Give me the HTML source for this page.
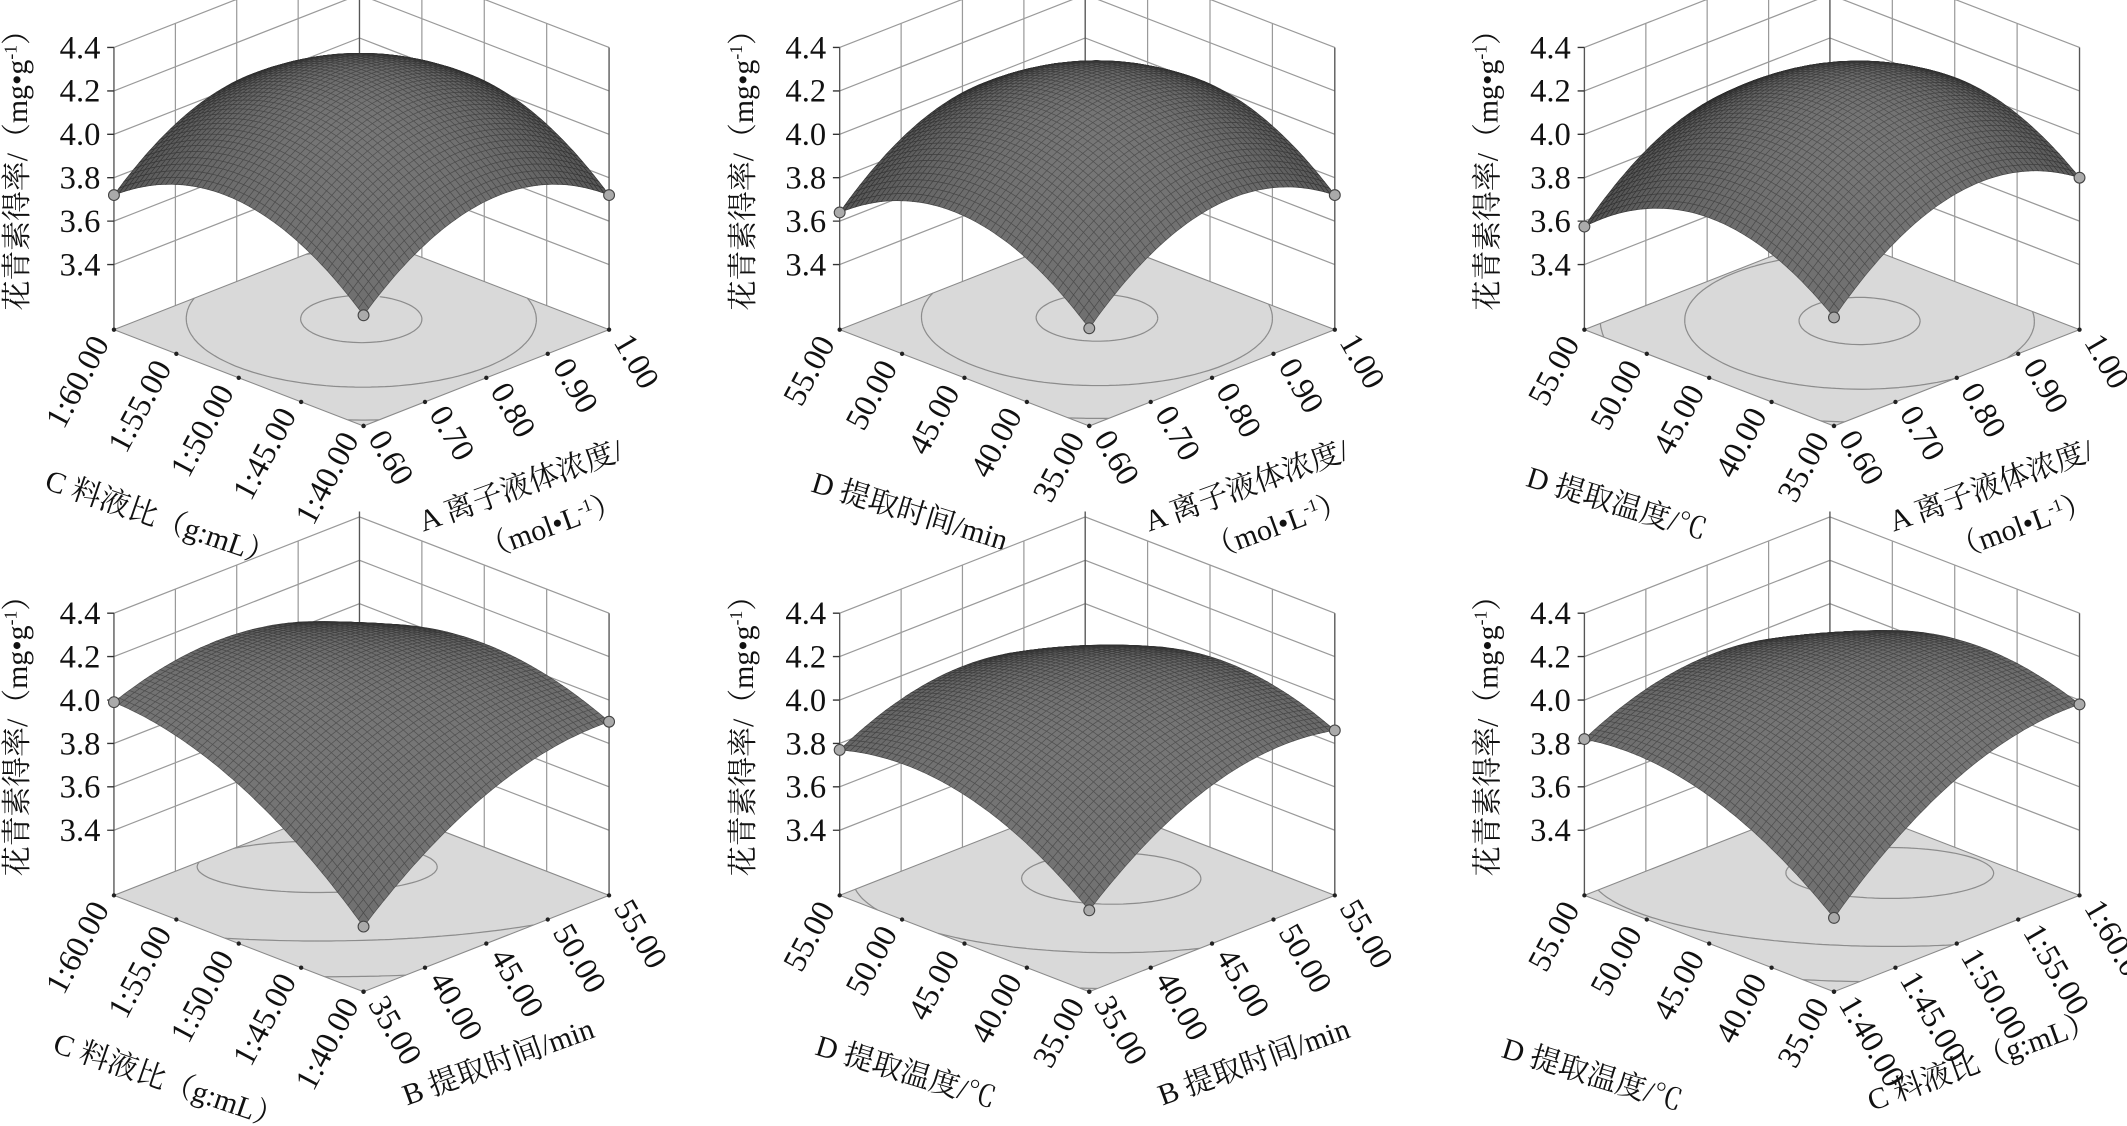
<!DOCTYPE html>
<html><head><meta charset="utf-8">
<style>
html,body{margin:0;padding:0;background:#fff;}
svg{display:block;}
text{font-family:"Liberation Serif","Noto Serif CJK SC","Noto Sans CJK SC",serif;fill:#111;}
.zt{font-size:24px;text-anchor:end;}
.tk{font-size:24px;}
.ti{font-size:22px;}
</style></head>
<body>
<svg width="2127" height="1126" viewBox="0 0 1568 830" preserveAspectRatio="none" xmlns="http://www.w3.org/2000/svg">

<!-- Panel 1 -->
<g transform="translate(0,0)">
<g id="g1"></g>
<text class="ti" transform="translate(20,120) rotate(-90)" text-anchor="middle">花青素得率/（mg•g<tspan dy="-8" font-size="13">-1</tspan><tspan dy="8">）</tspan></text>
<text class="zt" x="74" y="43">4.4</text><text class="zt" x="74" y="75">4.2</text><text class="zt" x="74" y="107">4.0</text><text class="zt" x="74" y="139">3.8</text><text class="zt" x="74" y="171">3.6</text><text class="zt" x="74" y="203">3.4</text>
<text class="tk" text-anchor="end" transform="translate(81,253) rotate(-62)">1:60.00</text>
<text class="tk" text-anchor="end" transform="translate(127,271) rotate(-62)">1:55.00</text>
<text class="tk" text-anchor="end" transform="translate(173,289) rotate(-62)">1:50.00</text>
<text class="tk" text-anchor="end" transform="translate(219,306) rotate(-62)">1:45.00</text>
<text class="tk" text-anchor="end" transform="translate(265,324) rotate(-62)">1:40.00</text>
<text class="tk" transform="translate(271,323) rotate(60)">0.60</text>
<text class="tk" transform="translate(316,305) rotate(60)">0.70</text>
<text class="tk" transform="translate(361,288) rotate(60)">0.80</text>
<text class="tk" transform="translate(407,270) rotate(60)">0.90</text>
<text class="tk" transform="translate(452,252) rotate(60)">1.00</text>
<text class="ti" transform="translate(32,360) rotate(19)">C 料液比（g:mL）</text>
<text class="ti" transform="translate(312,392) rotate(-20)">A 离子液体浓度/</text>
<text class="ti" transform="translate(357,413) rotate(-20)">（mol•L<tspan dy="-8" font-size="13">-1</tspan><tspan dy="8">）</tspan></text>
</g>

<!-- Panel 2 -->
<g transform="translate(535,0)">
<g id="g2"></g>
<text class="ti" transform="translate(20,120) rotate(-90)" text-anchor="middle">花青素得率/（mg•g<tspan dy="-8" font-size="13">-1</tspan><tspan dy="8">）</tspan></text>
<text class="zt" x="74" y="43">4.4</text><text class="zt" x="74" y="75">4.2</text><text class="zt" x="74" y="107">4.0</text><text class="zt" x="74" y="139">3.8</text><text class="zt" x="74" y="171">3.6</text><text class="zt" x="74" y="203">3.4</text>
<text class="tk" text-anchor="end" transform="translate(81,253) rotate(-62)">55.00</text>
<text class="tk" text-anchor="end" transform="translate(127,271) rotate(-62)">50.00</text>
<text class="tk" text-anchor="end" transform="translate(173,289) rotate(-62)">45.00</text>
<text class="tk" text-anchor="end" transform="translate(219,306) rotate(-62)">40.00</text>
<text class="tk" text-anchor="end" transform="translate(265,324) rotate(-62)">35.00</text>
<text class="tk" transform="translate(271,323) rotate(60)">0.60</text>
<text class="tk" transform="translate(316,305) rotate(60)">0.70</text>
<text class="tk" transform="translate(361,288) rotate(60)">0.80</text>
<text class="tk" transform="translate(407,270) rotate(60)">0.90</text>
<text class="tk" transform="translate(452,252) rotate(60)">1.00</text>
<text class="ti" transform="translate(62,362) rotate(17)">D 提取时间/min</text>
<text class="ti" transform="translate(312,392) rotate(-20)">A 离子液体浓度/</text>
<text class="ti" transform="translate(357,413) rotate(-20)">（mol•L<tspan dy="-8" font-size="13">-1</tspan><tspan dy="8">）</tspan></text>
</g>

<!-- Panel 3 -->
<g transform="translate(1084,0)">
<g id="g3"></g>
<text class="ti" transform="translate(20,120) rotate(-90)" text-anchor="middle">花青素得率/（mg•g<tspan dy="-8" font-size="13">-1</tspan><tspan dy="8">）</tspan></text>
<text class="zt" x="74" y="43">4.4</text><text class="zt" x="74" y="75">4.2</text><text class="zt" x="74" y="107">4.0</text><text class="zt" x="74" y="139">3.8</text><text class="zt" x="74" y="171">3.6</text><text class="zt" x="74" y="203">3.4</text>
<text class="tk" text-anchor="end" transform="translate(81,253) rotate(-62)">55.00</text>
<text class="tk" text-anchor="end" transform="translate(127,271) rotate(-62)">50.00</text>
<text class="tk" text-anchor="end" transform="translate(173,289) rotate(-62)">45.00</text>
<text class="tk" text-anchor="end" transform="translate(219,306) rotate(-62)">40.00</text>
<text class="tk" text-anchor="end" transform="translate(265,324) rotate(-62)">35.00</text>
<text class="tk" transform="translate(271,323) rotate(60)">0.60</text>
<text class="tk" transform="translate(316,305) rotate(60)">0.70</text>
<text class="tk" transform="translate(361,288) rotate(60)">0.80</text>
<text class="tk" transform="translate(407,270) rotate(60)">0.90</text>
<text class="tk" transform="translate(452,252) rotate(60)">1.00</text>
<text class="ti" transform="translate(40,358) rotate(17)">D 提取温度/℃</text>
<text class="ti" transform="translate(312,392) rotate(-20)">A 离子液体浓度/</text>
<text class="ti" transform="translate(357,413) rotate(-20)">（mol•L<tspan dy="-8" font-size="13">-1</tspan><tspan dy="8">）</tspan></text>
</g>

<!-- Panel 4 -->
<g transform="translate(0,417)">
<g id="g4"></g>
<text class="ti" transform="translate(20,120) rotate(-90)" text-anchor="middle">花青素得率/（mg•g<tspan dy="-8" font-size="13">-1</tspan><tspan dy="8">）</tspan></text>
<text class="zt" x="74" y="43">4.4</text><text class="zt" x="74" y="75">4.2</text><text class="zt" x="74" y="107">4.0</text><text class="zt" x="74" y="139">3.8</text><text class="zt" x="74" y="171">3.6</text><text class="zt" x="74" y="203">3.4</text>
<text class="tk" text-anchor="end" transform="translate(81,253) rotate(-62)">1:60.00</text>
<text class="tk" text-anchor="end" transform="translate(127,271) rotate(-62)">1:55.00</text>
<text class="tk" text-anchor="end" transform="translate(173,289) rotate(-62)">1:50.00</text>
<text class="tk" text-anchor="end" transform="translate(219,306) rotate(-62)">1:45.00</text>
<text class="tk" text-anchor="end" transform="translate(265,324) rotate(-62)">1:40.00</text>
<text class="tk" transform="translate(271,323) rotate(60)">35.00</text>
<text class="tk" transform="translate(316,305) rotate(60)">40.00</text>
<text class="tk" transform="translate(361,288) rotate(60)">45.00</text>
<text class="tk" transform="translate(407,270) rotate(60)">50.00</text>
<text class="tk" transform="translate(452,252) rotate(60)">55.00</text>
<text class="ti" transform="translate(38,358) rotate(19)">C 料液比（g:mL）</text>
<text class="ti" transform="translate(300,398) rotate(-20)">B 提取时间/min</text>
</g>

<!-- Panel 5 -->
<g transform="translate(535,417)">
<g id="g5"></g>
<text class="ti" transform="translate(20,120) rotate(-90)" text-anchor="middle">花青素得率/（mg•g<tspan dy="-8" font-size="13">-1</tspan><tspan dy="8">）</tspan></text>
<text class="zt" x="74" y="43">4.4</text><text class="zt" x="74" y="75">4.2</text><text class="zt" x="74" y="107">4.0</text><text class="zt" x="74" y="139">3.8</text><text class="zt" x="74" y="171">3.6</text><text class="zt" x="74" y="203">3.4</text>
<text class="tk" text-anchor="end" transform="translate(81,253) rotate(-62)">55.00</text>
<text class="tk" text-anchor="end" transform="translate(127,271) rotate(-62)">50.00</text>
<text class="tk" text-anchor="end" transform="translate(173,289) rotate(-62)">45.00</text>
<text class="tk" text-anchor="end" transform="translate(219,306) rotate(-62)">40.00</text>
<text class="tk" text-anchor="end" transform="translate(265,324) rotate(-62)">35.00</text>
<text class="tk" transform="translate(271,323) rotate(60)">35.00</text>
<text class="tk" transform="translate(316,305) rotate(60)">40.00</text>
<text class="tk" transform="translate(361,288) rotate(60)">45.00</text>
<text class="tk" transform="translate(407,270) rotate(60)">50.00</text>
<text class="tk" transform="translate(452,252) rotate(60)">55.00</text>
<text class="ti" transform="translate(65,360) rotate(17)">D 提取温度/℃</text>
<text class="ti" transform="translate(322,398) rotate(-20)">B 提取时间/min</text>
</g>

<!-- Panel 6 -->
<g transform="translate(1084,417)">
<g id="g6"></g>
<text class="ti" transform="translate(20,120) rotate(-90)" text-anchor="middle">花青素得率/（mg•g<tspan dy="-8" font-size="13">-1</tspan><tspan dy="8">）</tspan></text>
<text class="zt" x="74" y="43">4.4</text><text class="zt" x="74" y="75">4.2</text><text class="zt" x="74" y="107">4.0</text><text class="zt" x="74" y="139">3.8</text><text class="zt" x="74" y="171">3.6</text><text class="zt" x="74" y="203">3.4</text>
<text class="tk" text-anchor="end" transform="translate(81,253) rotate(-62)">55.00</text>
<text class="tk" text-anchor="end" transform="translate(127,271) rotate(-62)">50.00</text>
<text class="tk" text-anchor="end" transform="translate(173,289) rotate(-62)">45.00</text>
<text class="tk" text-anchor="end" transform="translate(219,306) rotate(-62)">40.00</text>
<text class="tk" text-anchor="end" transform="translate(265,324) rotate(-62)">35.00</text>
<text class="tk" transform="translate(271,323) rotate(60)">1:40.00</text>
<text class="tk" transform="translate(316,305) rotate(60)">1:45.00</text>
<text class="tk" transform="translate(361,288) rotate(60)">1:50.00</text>
<text class="tk" transform="translate(407,270) rotate(60)">1:55.00</text>
<text class="tk" transform="translate(452,252) rotate(60)">1:60.00</text>
<text class="ti" transform="translate(22,362) rotate(17)">D 提取温度/℃</text>
<text class="ti" transform="translate(296,402) rotate(-20)">C 料液比（g:mL）</text>
</g>
</svg>

<script>
(function(){
var F=[268,314],L=[84,243],R=[449,243],Z0=3.1,S=160;
function P(a,b,z){return [F[0]+a*(L[0]-F[0])+b*(R[0]-F[0]), F[1]+a*(L[1]-F[1])+b*(R[1]-F[1])-(z-Z0)*S];}
function f2(p){return p[0].toFixed(1)+","+p[1].toFixed(1);}
function build(id,zF,zL,zR,zB,k1,k2){
  var dL=zL-zF,dR=zR-zF,al=dL+k1,be=dR+k2,ga=zB-zF-dL-dR;
  function z(a,b){return zF+al*a+be*b-k1*a*a-k2*b*b+ga*a*b;}
  var s=[];
  var zs=[3.4,3.6,3.8,4.0,4.2,4.4];
  var Bk=P(1,1,Z0),Bt=P(1,1,4.4);
  s.push('<polygon points="'+[P(1,0,Z0),P(1,0,4.4),Bt,P(0,1,4.4),P(0,1,Z0),Bk].map(f2).join(" ")+'" fill="#fff"/>');
  var g='';
  zs.forEach(function(v){g+='M'+f2(P(1,0,v))+'L'+f2(P(1,1,v))+'L'+f2(P(0,1,v));});
  [0.25,0.5,0.75].forEach(function(t){g+='M'+f2(P(1,t,Z0))+'L'+f2(P(1,t,4.4));g+='M'+f2(P(t,1,Z0))+'L'+f2(P(t,1,4.4));});
  s.push('<path d="'+g+'" stroke="#9a9a9a" stroke-width="0.9" fill="none"/>');
  s.push('<path d="M'+f2(P(1,0,Z0))+'L'+f2(P(1,0,4.4))+'M'+f2(Bk)+'L'+f2([Bk[0],-40])+'M'+f2(P(0,1,Z0))+'L'+f2(P(0,1,4.4))+'" stroke="#555" stroke-width="1" fill="none"/>');
  var tk='';zs.forEach(function(v){var p=P(1,0,v);tk+='M'+f2(p)+'L'+(p[0]-5)+','+p[1].toFixed(1);});
  s.push('<path d="'+tk+'" stroke="#333" stroke-width="1"/>');
  s.push('<polygon points="'+[P(0,0,Z0),P(1,0,Z0),P(1,1,Z0),P(0,1,Z0)].map(f2).join(" ")+'" fill="#d9d9d9" stroke="#8a8a8a" stroke-width="0.8"/>');
  var N=60,grid=[],zmax=-9;
  for(var i=0;i<=N;i++){grid[i]=[];for(var j=0;j<=N;j++){var v=z(i/N,j/N);grid[i][j]=v;if(v>zmax)zmax=v;}}
  var cp='';
  [zmax-0.03,zmax-0.25,zmax-0.55].forEach(function(lv){
    for(var i=0;i<N;i++)for(var j=0;j<N;j++){
      var c=[[i,j],[i+1,j],[i+1,j+1],[i,j+1]],pts=[];
      for(var e=0;e<4;e++){var A=c[e],B2=c[(e+1)%4],va=grid[A[0]][A[1]],vb=grid[B2[0]][B2[1]];
        if((va-lv)*(vb-lv)<0){var t=(lv-va)/(vb-va);pts.push([(A[0]+t*(B2[0]-A[0]))/N,(A[1]+t*(B2[1]-A[1]))/N]);}}
      if(pts.length>=2){cp+='M'+f2(P(pts[0][0],pts[0][1],Z0))+'L'+f2(P(pts[1][0],pts[1][1],Z0));}
    }});
  s.push('<path d="'+cp+'" stroke="#8c8c8c" stroke-width="0.9" fill="none"/>');
  for(var q=0;q<=4;q++){var p1=P(q/4,0,Z0),p2=P(0,q/4,Z0);s.push('<circle cx="'+p1[0].toFixed(1)+'" cy="'+p1[1].toFixed(1)+'" r="1.6" fill="#222"/><circle cx="'+p2[0].toFixed(1)+'" cy="'+p2[1].toFixed(1)+'" r="1.6" fill="#222"/>');}
  var M=48,quads=[];
  for(var i=0;i<M;i++)for(var j=0;j<M;j++){quads.push([i,j]);}
  quads.sort(function(u,v){return (v[0]+v[1])-(u[0]+u[1]);});
  var Lx=-0.35,Ly=-0.35,Lz=0.87;
  quads.forEach(function(q){
    var a0=q[0]/M,b0=q[1]/M,a1=(q[0]+1)/M,b1=(q[1]+1)/M;
    var am=(a0+a1)/2,bm=(b0+b1)/2;
    var dza=(al-2*k1*am+ga*bm)*0.84,dzb=(be-2*k2*bm+ga*am)*0.84;
    var nx=-dza,ny=-dzb,nz=1,nl=Math.sqrt(nx*nx+ny*ny+1);
    var d=(nx*Lx+ny*Ly+nz*Lz)/nl;
    var v=Math.round(38+80*Math.max(0,d));
    var col='rgb('+v+','+v+','+v+')',sc=Math.max(0,v-35);
    var pts=[P(a0,b0,z(a0,b0)),P(a1,b0,z(a1,b0)),P(a1,b1,z(a1,b1)),P(a0,b1,z(a0,b1))];
    s.push('<polygon points="'+pts.map(f2).join(" ")+'" fill="'+col+'" stroke="rgb('+sc+','+sc+','+sc+')" stroke-width="0.5"/>');
  });
  [[0,0],[1,0],[0,1]].forEach(function(c){var p=P(c[0],c[1],z(c[0],c[1]));s.push('<circle cx="'+p[0].toFixed(1)+'" cy="'+p[1].toFixed(1)+'" r="4" fill="#aaa" stroke="#444" stroke-width="0.8"/>');});
  document.getElementById(id).innerHTML=s.join("");
}
build("g1",3.61,3.72,3.72,3.83,1.0,1.0);
build("g2",3.55,3.64,3.72,3.80,1.0,1.0);
build("g3",3.60,3.575,3.80,3.78,1.0,1.0);
build("g4",3.40,3.99,3.90,3.90,0.55,0.55);
build("g5",3.475,3.77,3.86,3.77,0.65,0.65);
build("g6",3.44,3.82,3.98,3.84,0.6,0.6);
})();
</script>
</body></html>
